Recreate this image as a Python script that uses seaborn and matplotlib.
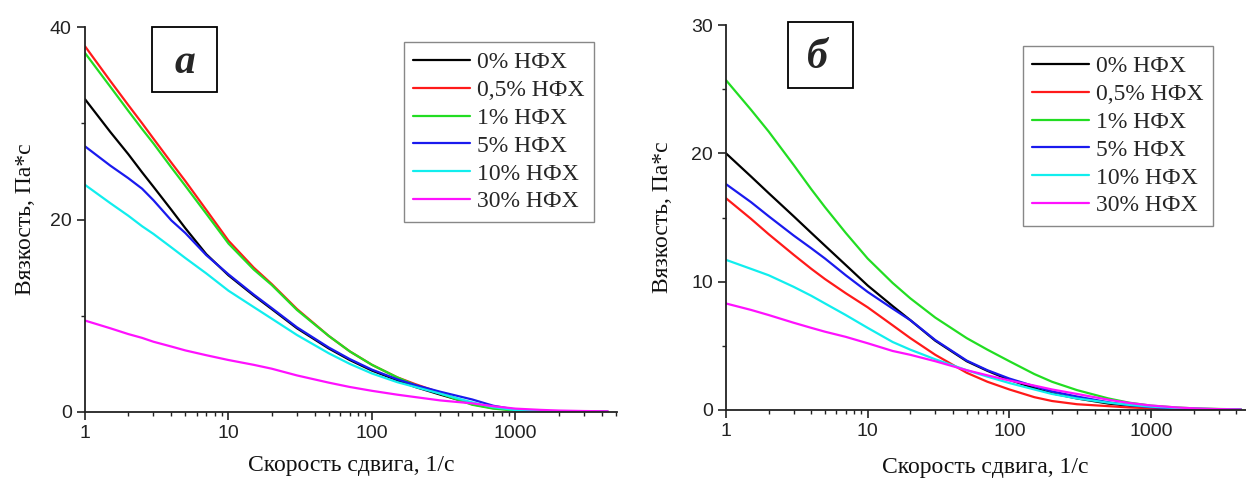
import numpy as np
import pandas as pd
import matplotlib
matplotlib.use("Agg")
import matplotlib.pyplot as plt
import matplotlib.ticker as mticker
from matplotlib.patches import Rectangle
import seaborn as sns

# ---------------- data ----------------
series = ["0% НФХ", "0,5% НФХ", "1% НФХ", "5% НФХ", "10% НФХ", "30% НФХ"]
colors = ["#000000", "#ff1a1a", "#22dd22", "#1a1aee", "#11eeee", "#ff11ff"]

# panel а
x_a = [1, 1.5, 2, 2.5, 3, 4, 5, 7, 10, 15, 20, 30, 50, 70, 100, 150, 200, 300,
       500, 700, 1000, 1500, 2000, 3000, 4400]
a_0 = [32.5, 29.1, 26.8, 24.9, 23.4, 21.0, 19.1, 16.4, 14.2, 12.1, 10.7, 8.7, 6.6, 5.4,
       4.3, 3.3, 2.6, 1.8, 0.85, 0.45, 0.2, 0.1, 0.06, 0.03, 0.02]
a_05 = [38.0, 34.4, 31.9, 30.0, 28.4, 25.9, 24.0, 21.0, 17.8, 15.0, 13.3, 10.7, 7.9, 6.3,
        4.9, 3.6, 2.9, 2.0, 0.8, 0.4, 0.18, 0.08, 0.05, 0.03, 0.02]
a_1 = [37.3, 33.8, 31.3, 29.4, 27.9, 25.4, 23.5, 20.6, 17.5, 14.8, 13.2, 10.6, 7.9, 6.3,
       4.9, 3.6, 2.8, 1.9, 0.75, 0.35, 0.15, 0.07, 0.04, 0.03, 0.02]
a_5 = [27.6, 25.6, 24.3, 23.2, 22.0, 19.9, 18.6, 16.3, 14.3, 12.2, 10.8, 8.8, 6.7, 5.5,
       4.4, 3.4, 2.8, 2.1, 1.3, 0.65, 0.25, 0.1, 0.06, 0.03, 0.02]
a_10 = [23.6, 21.7, 20.4, 19.3, 18.5, 17.1, 16.0, 14.4, 12.6, 10.9, 9.7, 8.0, 6.1, 5.0,
        4.0, 3.1, 2.6, 1.9, 1.0, 0.5, 0.2, 0.08, 0.05, 0.03, 0.02]
a_30 = [9.5, 8.7, 8.1, 7.7, 7.3, 6.8, 6.4, 5.9, 5.4, 4.9, 4.5, 3.8, 3.05, 2.6,
        2.2, 1.8, 1.55, 1.2, 0.9, 0.6, 0.35, 0.22, 0.15, 0.1, 0.07]

# panel б
x_b = [1, 1.5, 2, 3, 4, 5, 7, 10, 15, 20, 30, 50, 70, 100, 150, 200, 300, 500,
       700, 1000, 1500, 2000, 3000, 4300]
b_0 = [20.0, 18.2, 16.9, 15.1, 13.8, 12.8, 11.3, 9.7, 8.1, 7.0, 5.4, 3.8, 3.05, 2.35,
       1.7, 1.3, 0.9, 0.5, 0.33, 0.2, 0.12, 0.08, 0.05, 0.03]
b_05 = [16.5, 14.9, 13.7, 12.1, 11.0, 10.2, 9.1, 8.0, 6.6, 5.6, 4.3, 2.9, 2.2, 1.6,
        1.0, 0.7, 0.45, 0.3, 0.2, 0.13, 0.08, 0.05, 0.03, 0.02]
b_1 = [25.7, 23.4, 21.7, 19.1, 17.2, 15.8, 13.8, 11.8, 9.9, 8.7, 7.2, 5.6, 4.7, 3.8,
       2.8, 2.2, 1.55, 0.9, 0.57, 0.34, 0.2, 0.13, 0.08, 0.05]
b_5 = [17.6, 16.2, 15.1, 13.6, 12.6, 11.8, 10.5, 9.2, 7.9, 7.0, 5.45, 3.85, 3.1, 2.45,
       1.85, 1.45, 1.05, 0.6, 0.38, 0.22, 0.12, 0.08, 0.05, 0.03]
b_10 = [11.7, 11.0, 10.5, 9.6, 8.9, 8.3, 7.4, 6.4, 5.3, 4.7, 3.95, 3.1, 2.6, 2.1,
        1.6, 1.25, 0.9, 0.57, 0.4, 0.26, 0.16, 0.1, 0.06, 0.03]
b_30 = [8.3, 7.8, 7.4, 6.8, 6.4, 6.1, 5.7, 5.2, 4.6, 4.3, 3.8, 3.1, 2.7, 2.3,
        1.9, 1.6, 1.25, 0.8, 0.55, 0.35, 0.2, 0.13, 0.07, 0.04]

x_ticks = [1, 10, 100, 1000]
x_ticklabels = ["1", "10", "100", "1000"]
xlabel = "Скорость сдвига, 1/с"
ylabel = "Вязкость, Па*с"


def long_df(x, ys):
    rows = []
    for name, y in zip(series, ys):
        for xi, yi in zip(x, y):
            rows.append((xi, yi, name))
    return pd.DataFrame(rows, columns=["x", "y", "series"])


df_a = long_df(x_a, [a_0, a_05, a_1, a_5, a_10, a_30])
df_b = long_df(x_b, [b_0, b_05, b_1, b_5, b_10, b_30])

# ---------------- figure ----------------
sns.set_style("ticks")
plt.rcParams["font.family"] = ["Liberation Serif", "DejaVu Serif"]

W, H = 1246, 484
fig = plt.figure(figsize=(W / 100, H / 100), dpi=100)


def fx(px):
    return px / W


def fy(py):
    return 1 - py / H


ax_a = fig.add_axes([fx(85), fy(412), fx(617 - 85), (412 - 27) / H])
ax_b = fig.add_axes([fx(726), fy(410), fx(1245.5 - 726), (410 - 25) / H])

palette = dict(zip(series, colors))
tick_font = {"family": "Liberation Sans", "size": 14}


def style(ax, df, xmax, ymax, ymaj, ymin, xlab_y, ylab_x, leg_xy, letter, box, letter_xy):
    sns.lineplot(data=df, x="x", y="y", hue="series", hue_order=series, palette=palette,
                 ax=ax, linewidth=1.6, sort=False, estimator=None, legend=True)
    ax.set_xscale("log")
    ax.set_xlim(1, xmax)
    ax.set_ylim(0, ymax)
    ax.xaxis.set_major_locator(mticker.FixedLocator(x_ticks))
    ax.xaxis.set_major_formatter(mticker.FixedFormatter(x_ticklabels))
    ax.xaxis.set_minor_locator(mticker.LogLocator(base=10, subs=np.arange(2, 10), numticks=20))
    ax.xaxis.set_minor_formatter(mticker.NullFormatter())
    ax.yaxis.set_major_locator(mticker.MultipleLocator(ymaj))
    ax.yaxis.set_minor_locator(mticker.MultipleLocator(ymin))
    for s in ["top", "right"]:
        ax.spines[s].set_visible(False)
    for s in ["left", "bottom"]:
        ax.spines[s].set_color("#222222")
        ax.spines[s].set_linewidth(1.3)
    ax.tick_params(which="major", direction="out", length=6, width=1.2, color="#222222",
                   labelcolor="#222222", pad=3.5)
    ax.tick_params(which="minor", direction="out", length=3, width=1.0, color="#222222")
    for lab in ax.get_xticklabels() + ax.get_yticklabels():
        lab.set_fontfamily(tick_font["family"])
        lab.set_fontsize(tick_font["size"])
    ax.set_xlabel(xlabel, fontsize=17, color="#111111")
    ax.set_ylabel(ylabel, fontsize=17, color="#111111")
    ax.xaxis.set_label_coords(0.5, xlab_y)
    ax.xaxis.label.set_va("center")
    ax.yaxis.set_label_coords(ylab_x, 0.5)
    ax.yaxis.label.set_va("center")

    handles, labels = ax.get_legend_handles_labels()
    if ax.get_legend() is not None:
        ax.get_legend().remove()
    for h in handles:
        h.set_linewidth(1.6)
    leg = ax.legend(handles, labels, loc="upper left", bbox_to_anchor=leg_xy,
                    bbox_transform=fig.transFigure, borderaxespad=0, frameon=True,
                    fancybox=False, framealpha=1, edgecolor="#888888",
                    prop={"family": "Liberation Serif", "size": 17},
                    handlelength=2.4, handletextpad=0.3, labelspacing=0.27,
                    borderpad=0.4)
    leg.get_frame().set_linewidth(1.0)

    x0, y0, x1, y1 = box
    fig.add_artist(Rectangle((fx(x0), fy(y1)), fx(x1 - x0), (y1 - y0) / H,
                             transform=fig.transFigure, fill=False,
                             edgecolor="black", linewidth=1.3))
    fig.text(fx(letter_xy[0]), fy(letter_xy[1]), letter, ha="center", va="baseline",
             fontsize=30, fontweight="bold", fontstyle="italic",
             family=["Liberation Serif", "DejaVu Serif"])


style(ax_a, df_a, 5100, 40, 20, 10, (412 - 466) / 385, (25 - 85) / 532,
      (fx(404), fy(42)), "а", (152, 27, 217, 92), (184.7, 73))
style(ax_b, df_b, 4640, 30, 10, 5, (410 - 468) / 385, (663 - 726) / 519.5,
      (fx(1023), fy(46)), "б", (788, 22, 853, 88), (817.5, 68))

fig.savefig("out.png", dpi=100)
